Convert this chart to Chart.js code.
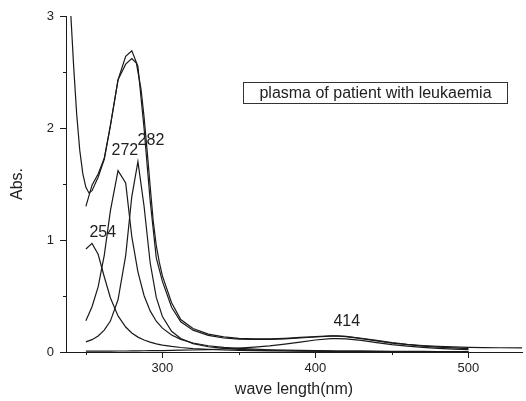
<!DOCTYPE html>
<html>
<head>
<meta charset="utf-8">
<script src="https://cdn.jsdelivr.net/npm/chart.js@4"></script>
<style>
  body { margin: 0; background: #fff; }
  canvas { display: block; }
</style>
</head>
<body>
<canvas id="chart" width="526" height="401"></canvas>
<script>
// measured spectrum
const measuredWl = [238, 240, 242, 244, 246, 248, 250, 252, 254, 258, 262, 266, 271, 276, 280, 283, 286, 288, 290, 292,
    294, 296, 298, 300, 306, 312, 320, 330, 340, 350, 360, 370, 380, 390, 400, 410, 414, 420, 430, 440,
    450, 460, 470, 480, 490, 500, 510, 520, 535];
const measuredAbs = [3.45, 3.05, 2.55, 2.12, 1.80, 1.59, 1.47, 1.42, 1.44, 1.56, 1.72, 2.02, 2.43, 2.57, 2.62, 2.58, 2.35, 2.10, 1.80, 1.48,
    1.17, 0.95, 0.80, 0.68, 0.44, 0.29, 0.21, 0.16, 0.135, 0.122, 0.117, 0.117, 0.122, 0.13, 0.138, 0.144, 0.145, 0.14, 0.123, 0.103,
    0.084, 0.069, 0.058, 0.05, 0.045, 0.041, 0.039, 0.038, 0.037];

// fitted sum and its four bands
const fitWl = [250, 254, 258, 262, 266, 271, 276, 280, 284, 288, 292, 296, 300, 306, 312, 320, 330, 340, 350, 360,
    370, 380, 390, 400, 410, 414, 420, 430, 440, 450, 460, 470, 480, 490, 500];
const fitSum = [1.30, 1.49, 1.59, 1.73, 2.02, 2.43, 2.64, 2.69, 2.55, 2.0, 1.35, 0.84, 0.63, 0.40, 0.27, 0.195, 0.148, 0.125, 0.115, 0.112,
    0.112, 0.117, 0.125, 0.134, 0.141, 0.142, 0.137, 0.12, 0.1, 0.08, 0.065, 0.053, 0.043, 0.036, 0.031];
const band254 = [0.92, 0.97, 0.873, 0.672, 0.485, 0.322, 0.223, 0.17, 0.133, 0.107, 0.088, 0.073, 0.062, 0.05, 0.04, 0.031, 0.024, 0.018, 0.015, 0.012,
    0.010, 0.009, 0.008, 0.007, 0.006, 0.005, 0.005, 0.005, 0.004, 0.004, 0.003, 0.003, 0.003, 0.003, 0.002];
const band272 = [0.28, 0.404, 0.581, 0.863, 1.26, 1.62, 1.51, 1.03, 0.716, 0.505, 0.367, 0.275, 0.213, 0.152, 0.113, 0.08, 0.056, 0.041, 0.032, 0.025,
    0.02, 0.017, 0.014, 0.012, 0.01, 0.009, 0.009, 0.008, 0.007, 0.006, 0.005, 0.005, 0.004, 0.004, 0.003];
const band282 = [0.09, 0.11, 0.143, 0.195, 0.276, 0.466, 0.861, 1.388, 1.70, 1.304, 0.797, 0.487, 0.317, 0.185, 0.12, 0.075, 0.047, 0.032, 0.023, 0.0175,
    0.0137, 0.011, 0.009, 0.0076, 0.0065, 0.006, 0.0055, 0.0048, 0.0042, 0.0037, 0.0033, 0.003, 0.0027, 0.0024, 0.0022];
const band414 = [0.007, 0.007, 0.007, 0.008, 0.008, 0.009, 0.009, 0.010, 0.010, 0.011, 0.012, 0.012, 0.013, 0.014, 0.016, 0.018, 0.022, 0.027, 0.034, 0.043,
    0.054, 0.070, 0.088, 0.107, 0.119, 0.120, 0.117, 0.103, 0.084, 0.066, 0.052, 0.041, 0.032, 0.026, 0.021];

// axis ticks
const xMajorTicks = [300, 400, 500];
const xMinorTicks = [250, 350, 450];
const yMajorTicks = [0, 1, 2, 3];
const yMinorTicks = [0.5, 1.5, 2.5];

// peak labels: text, wavelength, absorbance where the label sits
const peakLabels = ['254', '272', '282', '414'];
const peakLabelX = [261, 275.5, 292.5, 420.5];
const peakLabelY = [1.07, 1.80, 1.89, 0.27];

const legendText = 'plasma of patient with leukaemia';

const ink = '#1a1a1a';
const textColor = '#222';
const fontFamily = '"Liberation Sans", Arial, sans-serif';

function pts(xs, ys) {
    return xs.map((x, i) => ({ x: x, y: ys[i] }));
}

function line(data) {
    return {
        data: data,
        showLine: true,
        borderColor: ink,
        borderWidth: 1.2,
        pointRadius: 0,
        fill: false,
        tension: 0,
    };
}

// minor ticks, peak labels and the boxed caption
const extras = {
    id: 'extras',
    afterDraw(chart) {
        const ctx = chart.ctx;
        const x = chart.scales.x;
        const y = chart.scales.y;
        ctx.save();
        ctx.strokeStyle = ink;
        ctx.lineWidth = 1;
        ctx.beginPath();
        xMinorTicks.forEach(v => {
            const px = Math.round(x.getPixelForValue(v)) + 0.5;
            ctx.moveTo(px, y.bottom);
            ctx.lineTo(px, y.bottom + 3);
        });
        yMinorTicks.forEach(v => {
            const py = Math.round(y.getPixelForValue(v)) + 0.5;
            ctx.moveTo(x.left, py);
            ctx.lineTo(x.left - 3, py);
        });
        ctx.stroke();

        ctx.fillStyle = textColor;
        ctx.font = '16px ' + fontFamily;
        ctx.textAlign = 'center';
        ctx.textBaseline = 'middle';
        peakLabels.forEach((t, i) => {
            ctx.fillText(t, x.getPixelForValue(peakLabelX[i]), y.getPixelForValue(peakLabelY[i]));
        });

        const bx1 = Math.round(x.getPixelForValue(352.5)) + 0.5;
        const bx2 = Math.round(x.getPixelForValue(525.5)) + 0.5;
        const by1 = Math.round(y.getPixelForValue(2.41)) + 0.5;
        const by2 = Math.round(y.getPixelForValue(2.22)) + 0.5;
        ctx.strokeStyle = '#333';
        ctx.strokeRect(bx1, by1, bx2 - bx1, by2 - by1);
        ctx.fillText(legendText, (bx1 + bx2) / 2, (by1 + by2) / 2 + 1);
        ctx.restore();
    }
};

new Chart(document.getElementById('chart'), {
    type: 'scatter',
    data: {
        datasets: [
            line(pts(measuredWl, measuredAbs)),
            line(pts(fitWl, fitSum)),
            line(pts(fitWl, band254)),
            line(pts(fitWl, band272)),
            line(pts(fitWl, band282)),
            line(pts(fitWl, band414)),
        ],
    },
    options: {
        responsive: false,
        animation: false,
        layout: { padding: { top: 16, right: 4, left: 0, bottom: 0 } },
        plugins: {
            legend: { display: false },
            tooltip: { enabled: false },
        },
        scales: {
            x: {
                type: 'linear',
                min: 237,
                max: 535,
                afterBuildTicks(scale) { scale.ticks = xMajorTicks.map(v => ({ value: v })); },
                afterFit(scale) { scale.height = 49; },
                grid: { drawOnChartArea: false, tickLength: 6, tickColor: ink },
                border: { color: ink, width: 1 },
                ticks: {
                    padding: 3,
                    color: textColor,
                    font: { family: fontFamily, size: 13 },
                    maxRotation: 0,
                    autoSkip: false,
                },
                title: {
                    display: true,
                    text: 'wave length(nm)',
                    color: textColor,
                    font: { family: fontFamily, size: 16 },
                    padding: { top: 0, bottom: 2 },
                },
            },
            y: {
                type: 'linear',
                min: 0,
                max: 3,
                afterBuildTicks(scale) { scale.ticks = yMajorTicks.map(v => ({ value: v })); },
                afterFit(scale) { scale.width = 66; },
                grid: { drawOnChartArea: false, tickLength: 6, tickColor: ink },
                border: { color: ink, width: 1 },
                ticks: {
                    padding: 6,
                    color: textColor,
                    font: { family: fontFamily, size: 13 },
                },
                title: {
                    display: true,
                    text: 'Abs.',
                    color: textColor,
                    font: { family: fontFamily, size: 16 },
                    padding: { top: 8, bottom: 0 },
                },
            },
        },
    },
    plugins: [extras],
});
</script>
</body>
</html>
